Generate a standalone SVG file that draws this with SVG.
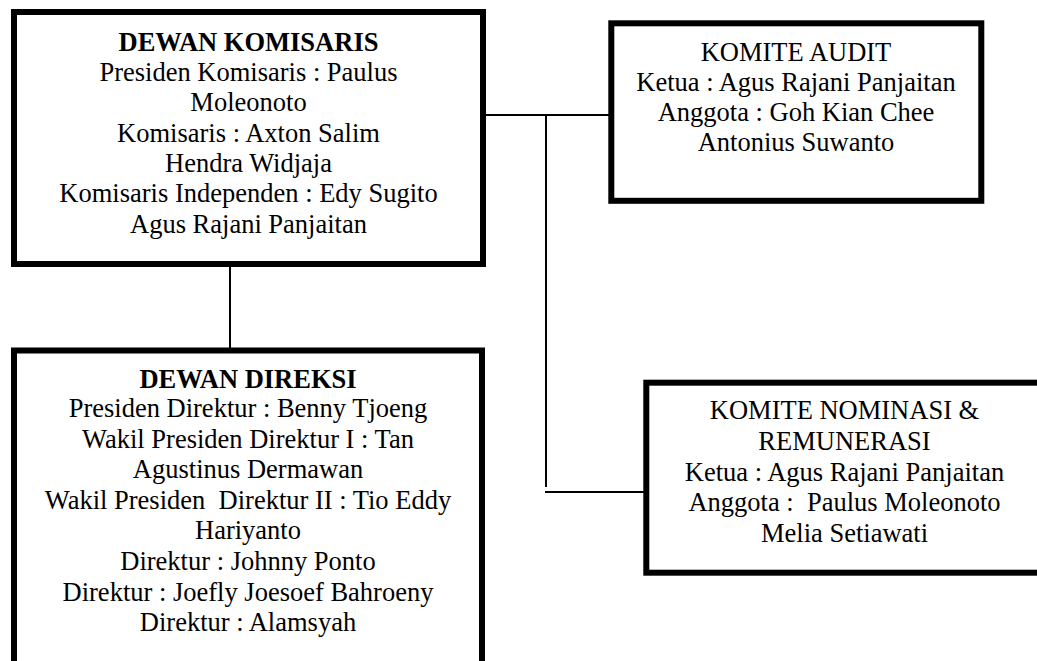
<svg xmlns="http://www.w3.org/2000/svg" width="1037" height="661" viewBox="0 0 1037 661">
<style>
.box{fill:#fff;stroke:#000;stroke-width:6}
.ln{fill:none;stroke:#000;stroke-width:2}
text{font-family:"Liberation Serif","Times New Roman",serif;font-size:26.5px;fill:#000;text-anchor:middle}
.b{font-weight:bold}
</style>
<rect width="1037" height="661" fill="#fff"/>
<g id="connectors">
<line class="ln" x1="230" y1="266" x2="230" y2="348"/>
<line class="ln" x1="486" y1="115" x2="609" y2="115"/>
<line class="ln" x1="546" y1="115" x2="546" y2="487"/>
<line class="ln" x1="545" y1="492" x2="644" y2="492"/>
</g>
<g id="dewan-komisaris">
<rect class="box" x="14" y="12" width="469" height="252"/>
<text x="248.5" y="51" class="b">DEWAN KOMISARIS</text>
<text x="248.5" y="81">Presiden Komisaris : Paulus</text>
<text x="248.5" y="111.3">Moleonoto</text>
<text x="248.5" y="141.6">Komisaris : Axton Salim</text>
<text x="248.5" y="171.9">Hendra Widjaja</text>
<text x="248.5" y="202.2">Komisaris Independen : Edy Sugito</text>
<text x="248.5" y="232.5">Agus Rajani Panjaitan</text>
</g>
<g id="dewan-direksi">
<rect class="box" x="14" y="350.5" width="468" height="340"/>
<text x="248" y="388" class="b">DEWAN DIREKSI</text>
<text x="248" y="417">Presiden Direktur : Benny Tjoeng</text>
<text x="248" y="447.6">Wakil Presiden Direktur I : Tan</text>
<text x="248" y="478.2">Agustinus Dermawan</text>
<text x="248" y="508.8" xml:space="preserve">Wakil Presiden  Direktur II : Tio Eddy</text>
<text x="248" y="539.4">Hariyanto</text>
<text x="248" y="570">Direktur : Johnny Ponto</text>
<text x="248" y="600.6">Direktur : Joefly Joesoef Bahroeny</text>
<text x="248" y="631.2">Direktur : Alamsyah</text>
</g>
<g id="komite-audit">
<rect class="box" x="611.3" y="23.3" width="370" height="177.5"/>
<text x="796" y="61">KOMITE AUDIT</text>
<text x="796" y="90.7">Ketua : Agus Rajani Panjaitan</text>
<text x="796" y="120.7">Anggota : Goh Kian Chee</text>
<text x="796" y="150.7">Antonius Suwanto</text>
</g>
<g id="komite-nominasi">
<rect class="box" x="646.3" y="382.7" width="420" height="190"/>
<text x="844.5" y="419.3">KOMITE NOMINASI &amp;</text>
<text x="844.5" y="450">REMUNERASI</text>
<text x="844.5" y="480.5">Ketua : Agus Rajani Panjaitan</text>
<text x="844.5" y="511" xml:space="preserve">Anggota :  Paulus Moleonoto</text>
<text x="844.5" y="541.7">Melia Setiawati</text>
</g>
</svg>
